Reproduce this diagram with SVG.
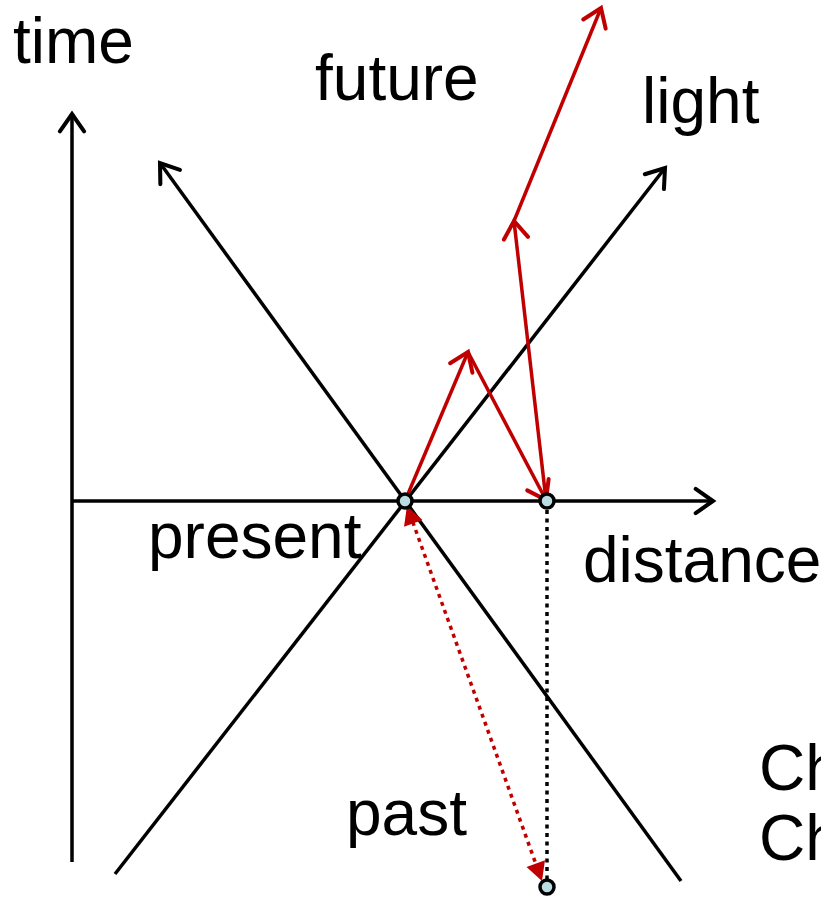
<svg xmlns="http://www.w3.org/2000/svg" width="821" height="899" viewBox="0 0 821 899">
<style>
.lbl{font-family:"Liberation Sans",Arial,sans-serif;font-size:64px;fill:#000}
.blk{stroke:#000;stroke-width:3.5;fill:none}
.red{stroke:#c00000;stroke-width:3.5;fill:none}
.dot{fill:#b9dde2;stroke:#000;stroke-width:3.5}
</style>
<defs>
<marker id="openB" markerUnits="userSpaceOnUse" markerWidth="30" markerHeight="30" viewBox="-18 -13 22 26" refX="0" refY="0" orient="auto">
<path d="M-15,-10.5 L0,0 L-15,10.5" fill="none" stroke="#000" stroke-width="3.5" stroke-linecap="round"/>
</marker>
<marker id="openR" markerUnits="userSpaceOnUse" markerWidth="30" markerHeight="30" viewBox="-18 -13 22 26" refX="0" refY="0" orient="auto">
<path d="M-15,-10.5 L0,0 L-15,10.5" fill="none" stroke="#c00000" stroke-width="3.5" stroke-linecap="round"/>
</marker>
<marker id="triR" markerUnits="userSpaceOnUse" markerWidth="30" markerHeight="30" viewBox="-18 -13 22 26" refX="0" refY="0" orient="auto-start-reverse">
<path d="M-16,-8.5 L0,0 L-16,8.5 Z" fill="#c00000"/>
</marker>
</defs>
<g id="connectors">
<line id="time-axis" class="blk" x1="72" y1="862" x2="72" y2="114" marker-end="url(#openB)"/>
<line id="distance-axis" class="blk" x1="71" y1="501" x2="713" y2="501" marker-end="url(#openB)"/>
<line id="light-right" class="blk" x1="115" y1="874" x2="665" y2="168" marker-end="url(#openB)"/>
<line id="light-left" class="blk" x1="681" y1="881" x2="160" y2="163" marker-end="url(#openB)"/>
<line id="dotted-black" class="blk" x1="547" y1="510" x2="547" y2="880" stroke-dasharray="4 4.5"/>
<line id="red1" class="red" x1="405" y1="501" x2="468" y2="352" marker-end="url(#openR)"/>
<line id="red2" class="red" x1="468" y1="352" x2="546" y2="500" marker-end="url(#openR)"/>
<line id="red3" class="red" x1="546" y1="500" x2="514" y2="221" marker-end="url(#openR)"/>
<line id="red4" class="red" x1="514" y1="221" x2="601" y2="8" marker-end="url(#openR)"/>
<line id="red-dotted" class="red" x1="407" y1="506" x2="542" y2="881" stroke-dasharray="4 4.5" marker-start="url(#triR)" marker-end="url(#triR)"/>
</g>
<g id="node-present"><circle class="dot" cx="405" cy="501" r="7"/></g>
<g id="node-event"><circle class="dot" cx="547" cy="501" r="7"/></g>
<g id="node-past-event"><circle class="dot" cx="547" cy="887" r="7"/></g>
<g id="labels">
<text class="lbl" x="13" y="63">time</text>
<text class="lbl" x="315" y="100">future</text>
<text class="lbl" x="642" y="123">light</text>
<text class="lbl" x="148" y="558">present</text>
<text class="lbl" x="583" y="582">distance</text>
<text class="lbl" x="346" y="835">past</text>
<text class="lbl" x="759" y="790">Ch</text>
<text class="lbl" x="759" y="860">Ch</text>
</g>
</svg>
